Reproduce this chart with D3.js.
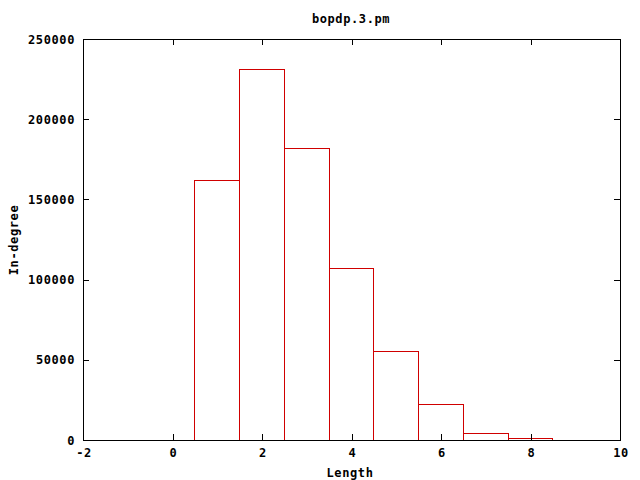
<!DOCTYPE html>
<html><head><meta charset="utf-8">
<script src="https://cdn.jsdelivr.net/npm/d3@7"></script>
<style>
body{margin:0;background:#fff;}
text{font-family:"DejaVu Sans Mono",monospace;font-weight:bold;font-size:12px;fill:#000;letter-spacing:0.6px;}
</style></head>
<body><svg id="c" width="640" height="480"></svg>
<script>
const lengths = [1, 2, 3, 4, 5, 6, 7, 8];
const counts = [162000, 231000, 181800, 107000, 55500, 22300, 4200, 1100];
const xTicks = [-2, 0, 2, 4, 6, 8, 10];
const yTicks = [0, 50000, 100000, 150000, 200000, 250000];
const title = "bopdp.3.pm";
const xTitle = "Length";
const yTitle = "In-degree";

const svg = d3.select("#c");
const L = 83, R = 620, T = 39, B = 440;
const x = d3.scaleLinear().domain([-2, 10]).range([L, R]);
const y = d3.scaleLinear().domain([0, 250000]).range([B, T]);
const tk = 6;

svg.append("rect").attr("width",640).attr("height",480).attr("fill","#fff");

// bars
svg.append("g").selectAll("rect").data(lengths).join("rect")
  .attr("x", d => Math.floor(x(d - 0.5)) + 0.5)
  .attr("width", d => Math.floor(x(d + 0.5)) - Math.floor(x(d - 0.5)))
  .attr("y", (d,i) => Math.round(y(counts[i])) + 0.5)
  .attr("height", (d,i) => B - Math.round(y(counts[i])))
  .attr("fill","none").attr("stroke","#d00000").attr("stroke-width",1);

// axes
const ax = svg.append("g").attr("stroke","#000").attr("stroke-width",1).attr("shape-rendering","crispEdges");
ax.append("rect").attr("x",L).attr("y",T).attr("width",R-L).attr("height",B-T).attr("fill","none");
xTicks.forEach(v => {
  const px = Math.round(x(v));
  ax.append("line").attr("x1",px).attr("x2",px).attr("y1",B).attr("y2",B-tk);
  ax.append("line").attr("x1",px).attr("x2",px).attr("y1",T).attr("y2",T+tk);
});
yTicks.forEach(v => {
  const py = Math.round(y(v));
  ax.append("line").attr("x1",L).attr("x2",L+tk).attr("y1",py).attr("y2",py);
  ax.append("line").attr("x1",R).attr("x2",R-tk).attr("y1",py).attr("y2",py);
});

svg.append("g").selectAll("text").data(xTicks).join("text")
  .attr("x", d => x(d) + 1).attr("y", B + 17).attr("text-anchor","middle").text(d => d);
svg.append("g").selectAll("text").data(yTicks).join("text")
  .attr("x", L - 8).attr("y", d => y(d) + 4.5).attr("text-anchor","end").text(d => d);

svg.append("text").attr("x", 351).attr("y", 23).attr("text-anchor","middle").text(title);
svg.append("text").attr("x", 350).attr("y", 477).attr("text-anchor","middle").text(xTitle);
svg.append("text").attr("transform","translate(18,240) rotate(-90)").attr("text-anchor","middle").text(yTitle);
</script></body></html>
